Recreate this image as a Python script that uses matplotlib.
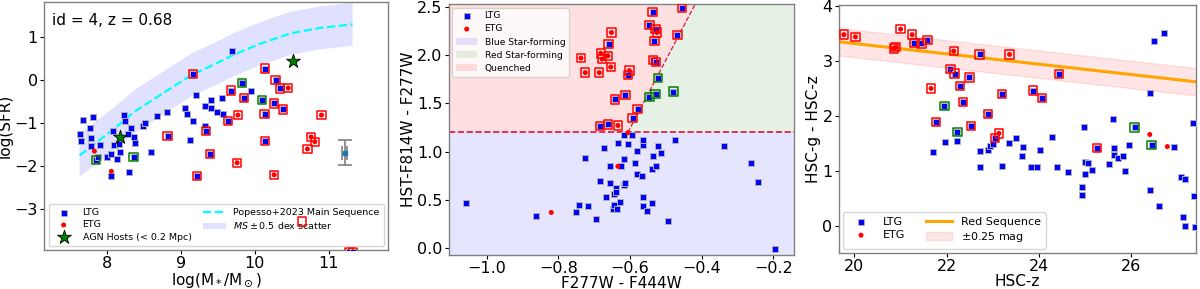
import numpy as np
import matplotlib
matplotlib.use("Agg")
import matplotlib.pyplot as plt

# ---- panel 1: SFR vs stellar mass ----
# (logM, logSFR, flag)  flag: '' none, 'q' quenched box, 'g' red-SF box
ltg1 = [(7.63, -1.25, ''), (7.65, -1.42, ''), (7.68, -0.92, ''), (7.81, -0.85, ''), (7.77, -1.12, ''),
        (7.79, -1.35, ''), (7.78, -1.54, ''), (7.85, -1.85, 'g'), (7.88, -1.79, ''), (7.90, -1.51, ''),
        (8.00, -1.79, ''), (8.06, -1.72, ''), (8.09, -1.50, ''), (8.08, -1.18, ''), (8.13, -1.83, ''),
        (8.18, -1.68, ''), (8.16, -1.48, ''), (8.23, -0.82, ''), (8.24, -0.95, ''), (8.29, -1.25, ''),
        (8.32, -1.12, ''), (8.37, -1.33, ''), (8.38, -1.47, ''), (8.36, -1.78, 'g'), (8.30, -2.14, ''),
        (8.05, -2.23, ''), (8.49, -1.06, ''), (8.52, -1.00, ''), (8.60, -1.68, ''), (8.68, -0.83, ''),
        (8.81, -0.74, ''), (8.82, -1.29, 'q'), (9.06, -0.65, ''), (9.08, -0.79, ''), (9.16, -0.95, ''),
        (9.12, -1.39, ''), (9.16, 0.15, 'q'), (9.20, -0.35, ''), (9.22, -2.23, 'q'), (9.32, -0.60, ''),
        (9.33, -1.06, ''), (9.34, -1.18, 'q'), (9.40, -0.47, ''), (9.41, -0.64, ''), (9.39, -1.72, 'q'),
        (9.49, -0.73, ''), (9.56, -0.41, ''), (9.57, -0.79, ''), (9.64, -0.95, 'q'), (9.68, -0.24, 'q'),
        (9.69, 0.67, ''), (9.83, -0.07, 'g'), (9.85, -0.42, 'q'), (9.95, -0.25, ''), (10.10, -0.46, 'g'),
        (10.13, -0.78, 'q'), (10.14, 0.27, 'q'), (10.14, -1.41, 'q'), (10.26, -0.54, 'q'), (10.28, 0.01, 'q'),
        (10.34, -0.19, 'q'), (10.38, -0.68, 'q'), (11.27, -4.0, 'q'), (11.33, -4.0, 'q')]
etg1 = [(7.83, -1.65, ''), (8.06, -2.12, ''), (9.77, -0.81, 'q'), (9.76, -1.92, 'q'), (10.26, -2.20, 'q'),
        (10.45, -0.18, 'q'), (10.71, -1.60, 'q'), (10.76, -1.32, 'q'), (10.81, -1.43, 'q'), (10.90, -0.81, 'q')]
hidden_box = (10.64, -3.29)
agn_mass = [8.17, 10.51]
agn_sfr = [-1.33, 0.44]
err_pt = (11.215, -1.69)
err_x, err_y = 0.035, 0.29
ms_mass = [7.63, 8.09, 8.38, 9.15, 9.44, 9.71, 10.07, 10.48, 10.89, 11.32]
ms_sfr = [-1.75, -1.14, -0.72, 0.13, 0.36, 0.59, 0.85, 1.09, 1.22, 1.30]
ms_scatter = 0.5

# ---- panel 2: colour-colour ----
ltg2 = [(-1.058, 0.464, ''), (-0.862, 0.334, ''), (-0.751, 0.378, ''), (-0.743, 0.447, ''), (-0.717, 0.433, ''),
        (-0.727, 0.935, ''), (-0.694, 0.303, ''), (-0.683, 0.695, ''), (-0.673, 1.039, ''), (-0.667, 0.533, ''),
        (-0.656, 0.856, ''), (-0.655, 0.681, ''), (-0.649, 0.409, ''), (-0.646, 0.561, ''), (-0.644, 0.450, ''),
        (-0.639, 0.619, ''), (-0.638, 0.585, ''), (-0.636, 0.402, ''), (-0.633, 1.090, ''), (-0.627, 0.478, ''),
        (-0.625, 0.849, ''), (-0.617, 0.928, ''), (-0.616, 0.660, ''), (-0.613, 0.674, ''), (-0.616, 1.176, ''),
        (-0.607, 1.083, ''), (-0.595, 1.173, ''), (-0.585, 0.884, ''), (-0.581, 1.008, ''), (-0.580, 0.774, ''),
        (-0.567, 0.750, ''), (-0.565, 1.069, ''), (-0.564, 1.118, ''), (-0.563, 0.533, ''), (-0.563, 0.440, ''),
        (-0.552, 0.389, ''), (-0.539, 0.464, ''), (-0.538, 0.822, ''), (-0.537, 0.953, ''), (-0.529, 0.853, ''),
        (-0.523, 1.059, ''), (-0.514, 0.984, ''), (-0.494, 0.279, ''), (-0.475, 1.124, ''), (-0.337, 1.056, ''),
        (-0.262, 0.884, ''), (-0.242, 0.691, ''), (-0.195, -0.007, ''),
        (-0.684, 1.265, 'q'), (-0.662, 1.283, 'q'), (-0.643, 1.541, 'q'), (-0.613, 1.589, 'q'), (-0.606, 1.798, 'q'),
        (-0.593, 1.351, 'q'), (-0.579, 1.444, 'q'), (-0.660, 2.115, 'q'), (-0.537, 2.448, 'q'), (-0.546, 2.311, 'q'),
        (-0.529, 2.270, 'q'), (-0.532, 2.146, 'q'), (-0.536, 1.950, 'q'), (-0.527, 1.926, 'q'), (-0.468, 2.208, 'q'),
        (-0.455, 2.486, 'q'),
        (-0.522, 1.764, 'g'), (-0.546, 1.565, 'g'), (-0.529, 1.599, 'g'), (-0.479, 1.623, 'g')]
etg2 = [(-0.820, 0.371, ''), (-0.634, 0.849, ''), (-0.606, 1.197, ''),
        (-0.737, 1.970, 'q'), (-0.725, 1.819, 'q'), (-0.686, 1.819, 'q'), (-0.682, 2.019, 'q'), (-0.678, 1.960, 'q'),
        (-0.662, 1.994, 'q'), (-0.654, 1.878, 'q'), (-0.652, 2.235, 'q'), (-0.634, 1.272, 'q'), (-0.602, 1.840, 'q'),
        (-0.525, 2.235, 'q')]
quench_y = 1.2
cut_x = [-0.606, -0.418]
cut_y = [1.2, 2.53]

# ---- panel 3: colour-magnitude ----
ltg3 = [(21.58, 3.38, 'q'), (21.30, 3.33, 'q'), (21.45, 3.32, 'q'), (22.71, 3.12, 'q'), (22.08, 2.85, 'q'),
        (22.17, 2.77, 'q'), (22.49, 2.70, 'q'), (22.28, 2.54, 'q'), (22.35, 2.25, 'q'), (21.76, 1.89, 'q'),
        (22.53, 1.81, 'q'), (22.89, 2.03, 'q'), (23.20, 2.40, 'q'), (23.87, 2.46, 'q'), (24.06, 2.32, 'q'),
        (24.43, 2.76, 'q'), (23.05, 1.60, 'q'), (25.26, 1.41, 'q'),
        (21.95, 2.18, 'g'), (22.23, 1.71, 'g'), (26.07, 1.79, 'g'), (26.44, 1.47, 'g'),
        (21.71, 1.34, ''), (21.97, 1.52, ''), (22.23, 1.54, ''), (22.73, 1.36, ''), (22.73, 1.07, ''),
        (22.89, 1.38, ''), (22.94, 1.45, ''), (23.00, 1.48, ''), (23.20, 1.09, ''), (23.34, 1.50, ''),
        (23.49, 1.59, ''), (23.65, 1.44, ''), (23.62, 1.27, ''), (23.83, 1.06, ''), (23.96, 1.06, ''),
        (24.03, 1.37, ''), (24.27, 1.62, ''), (24.39, 1.06, ''), (24.62, 0.98, ''), (24.92, 0.71, ''),
        (24.92, 0.56, ''), (24.97, 1.79, ''), (25.00, 1.15, ''), (25.07, 1.14, ''), (25.00, 0.94, ''),
        (25.15, 1.02, ''), (25.51, 1.12, ''), (25.60, 1.95, ''), (25.63, 1.42, ''), (25.62, 1.28, ''),
        (25.71, 1.24, ''), (25.81, 1.26, ''), (25.86, 1.00, ''), (25.95, 1.47, ''), (26.40, 2.42, ''),
        (26.40, 0.65, ''), (26.49, 3.37, ''), (26.60, 0.35, ''), (26.71, 3.51, ''), (26.93, 1.44, ''),
        (27.07, 0.89, ''), (27.17, 0.85, ''), (27.12, 0.16, ''), (27.16, -0.01, ''), (27.34, 1.87, ''),
        (27.36, 0.54, ''), (27.38, -0.02, '')]
etg3 = [(19.77, 3.48, 'q'), (20.02, 3.44, 'q'), (21.00, 3.58, 'q'), (21.25, 3.48, 'q'), (20.85, 3.23, 'q'),
        (20.89, 3.25, 'q'), (21.66, 2.50, 'q'), (22.15, 3.18, 'q'), (23.36, 3.12, 'q'), (23.13, 1.68, 'q'),
        (26.40, 1.66, ''), (26.78, 1.44, '')]
rs_x = [19.66, 27.41]
rs_y = [3.35, 2.62]
rs_width = 0.25

S_SQ, S_CI, S_BOX = 19, 13, 36
TS = 11.5
LS = 11


def draw_points(ax, ltg, etg):
    lx = [p[0] for p in ltg]
    ly = [p[1] for p in ltg]
    ex = [p[0] for p in etg]
    ey = [p[1] for p in etg]
    h1 = ax.scatter(lx, ly, marker='s', s=S_SQ, c='blue', edgecolors='#b0b0b0', linewidths=0.7,
                    zorder=3, label='LTG')
    h2 = ax.scatter(ex, ey, marker='o', s=S_CI, c='red', edgecolors='none', zorder=3, label='ETG')
    for flag, col in (('q', 'red'), ('g', 'green')):
        bx = [p[0] for p in ltg + etg if p[2] == flag]
        by = [p[1] for p in ltg + etg if p[2] == flag]
        ax.scatter(bx, by, marker='s', s=S_BOX, facecolors='none', edgecolors=col, linewidths=1.1, zorder=4)
    return h1, h2


def style(ax):
    for sp in ax.spines.values():
        sp.set_edgecolor('#808080')
        sp.set_linewidth(1.0)
    ax.tick_params(labelsize=TS, length=3, pad=1.5)


fig = plt.figure(figsize=(12, 2.89), dpi=100)

# panel 1
ax1 = fig.add_axes([0.0367, 0.135, 0.2867, 0.858])
ms_sfr = np.array(ms_sfr)
band = ax1.fill_between(ms_mass, ms_sfr - ms_scatter, ms_sfr + ms_scatter, facecolor='blue', alpha=0.12,
                        lw=0, zorder=1, label=r'$MS \pm 0.5$ dex scatter')
line, = ax1.plot(ms_mass, ms_sfr, color='cyan', ls='--', lw=1.6, zorder=2, label='Popesso+2023 Main Sequence')
h1, h2 = draw_points(ax1, ltg1, etg1)
ax1.scatter([hidden_box[0]], [hidden_box[1]], marker='s', s=S_BOX, facecolors='none', edgecolors='red',
            linewidths=1.1, zorder=6)
h3 = ax1.scatter(agn_mass, agn_sfr, marker='*', s=110, c='green', edgecolors='black', linewidths=0.6,
                 zorder=5, label='AGN Hosts (< 0.2 Mpc)')
ax1.errorbar([err_pt[0]], [err_pt[1]], xerr=err_x, yerr=err_y, fmt='s', ms=3.5, color='#1f77b4',
             ecolor='gray', elinewidth=1.2, capsize=5, capthick=1.2, zorder=3)
ax1.set_xlim(7.15, 11.8)
ax1.set_ylim(-3.95, 1.82)
ax1.set_xlabel(r'log(M$_*$/M$_\odot$)', fontsize=LS, labelpad=0)
ax1.set_ylabel('log(SFR)', fontsize=LS, labelpad=1)
ax1.text(0.022, 0.925, 'id = 4, z = 0.68', transform=ax1.transAxes, fontsize=11, va='center')
ax1.legend([h1, h2, h3, line, band], ['LTG', 'ETG', 'AGN Hosts (< 0.2 Mpc)', 'Popesso+2023 Main Sequence',
           r'$MS \pm 0.5$ dex scatter'], ncol=2, fontsize=6.8, loc='lower left', mode='expand',
           bbox_to_anchor=(0.013, 0.018, 0.974, 0.2), borderaxespad=0, handlelength=2.4,
           labelspacing=0.35, borderpad=0.4)
style(ax1)

# panel 2
ax2 = fig.add_axes([0.374, 0.1176, 0.2875, 0.8685])
xlo, xhi = -1.106, -0.143
ylo, yhi = -0.07, 2.53
ax2.fill_between([xlo, xhi], ylo, quench_y, facecolor='blue', alpha=0.1, lw=0, zorder=0,
                 label='Blue Star-forming')
ax2.fill_betweenx(cut_y, cut_x, xhi, facecolor='green', alpha=0.1, lw=0, zorder=0, label='Red Star-forming')
ax2.fill_betweenx(cut_y, xlo, cut_x, facecolor='red', alpha=0.12, lw=0, zorder=0, label='Quenched')
ax2.axhline(quench_y, color='crimson', ls='--', lw=1.2, zorder=1)
ax2.plot(cut_x, cut_y, color='crimson', ls='--', lw=0.9, zorder=1)
draw_points(ax2, ltg2, etg2)
h = ax2.get_legend_handles_labels()
order = ['LTG', 'ETG', 'Blue Star-forming', 'Red Star-forming', 'Quenched']
hd = dict(zip(h[1], h[0]))
ax2.legend([hd[k] for k in order], order, fontsize=6.6, loc='upper left', handlelength=2.3,
           labelspacing=0.45, borderaxespad=0.4)
ax2.set_xlim(xlo, xhi)
ax2.set_ylim(ylo, yhi)
ax2.set_xticks([-1.0, -0.8, -0.6, -0.4, -0.2])
ax2.set_xlabel('F277W - F444W', fontsize=LS, labelpad=0)
ax2.set_ylabel('HST-F814W - F277W', fontsize=LS, labelpad=1)
style(ax2)

# panel 3
ax3 = fig.add_axes([0.699, 0.1246, 0.298, 0.858])
rs_y = np.array(rs_y)
rsb = ax3.fill_between(rs_x, rs_y - rs_width, rs_y + rs_width, color='red', alpha=0.1, zorder=1,
                       label=r'$\pm$0.25 mag')
rsl, = ax3.plot(rs_x, rs_y, color='orange', lw=2.2, zorder=2, label='Red Sequence')
g1, g2 = draw_points(ax3, ltg3, etg3)
ax3.legend([g1, g2, rsl, rsb], ['LTG', 'ETG', 'Red Sequence', r'$\pm$0.25 mag'], ncol=2, fontsize=8,
           loc='lower left', handlelength=2.4, labelspacing=0.3, columnspacing=1.8, borderaxespad=0.4)
ax3.set_xlim(19.66, 27.41)
ax3.set_ylim(-0.5, 4.02)
ax3.set_xticks([20, 22, 24, 26])
ax3.set_yticks([0, 1, 2, 3, 4])
ax3.set_xlabel('HSC-z', fontsize=LS, labelpad=0)
ax3.set_ylabel('HSC-g - HSC-z', fontsize=LS, labelpad=1)
style(ax3)

fig.savefig('out.png', dpi=100)
